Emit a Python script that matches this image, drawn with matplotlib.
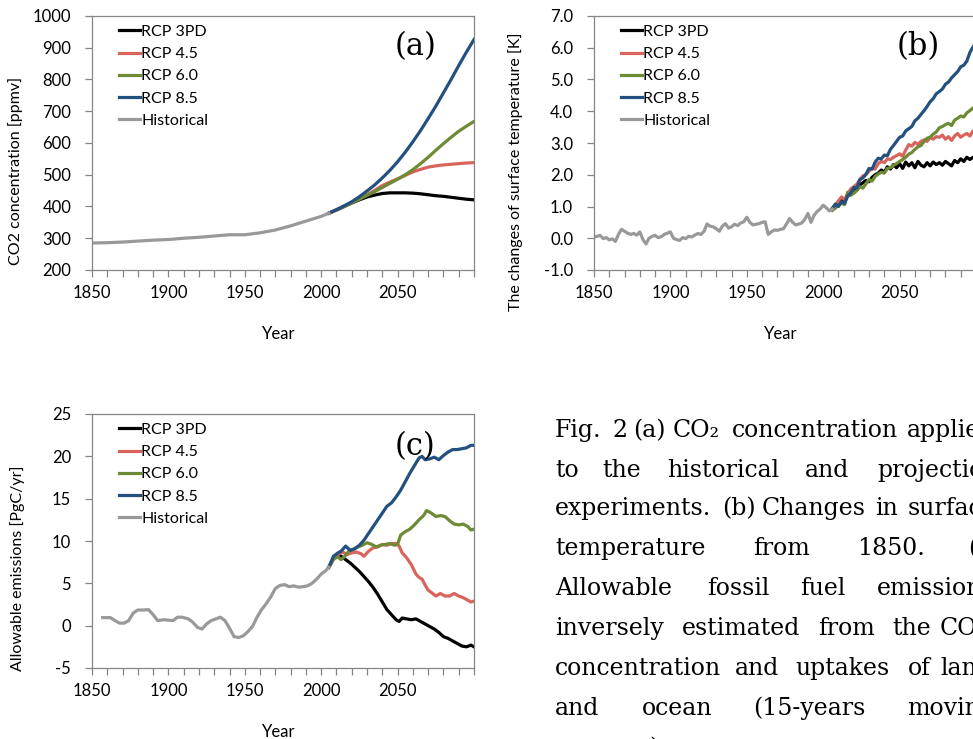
import numpy as np
import matplotlib.pyplot as plt

plt.rcParams['font.family'] = 'Lato'
plt.rcParams['axes.unicode_minus'] = False

# ---- (a) CO2 concentration [ppmv] ----
co2_hist_years = [1850, 1860, 1870, 1880, 1890, 1900, 1910, 1920, 1930, 1940,
                  1950, 1960, 1970, 1980, 1990, 2000, 2005]
co2_hist = [285, 286, 288, 291, 294, 296, 300, 303, 307, 311,
            311, 317, 326, 339, 354, 369, 379]
co2_rcp_years = [2005, 2010, 2015, 2020, 2025, 2030, 2035, 2040, 2045, 2050, 2055,
                 2060, 2065, 2070, 2075, 2080, 2085, 2090, 2095, 2100]
co2_rcp3pd = [379, 389, 400, 411, 421, 430, 436, 441, 443, 443, 443,
              442, 440, 437, 434, 432, 429, 426, 423, 421]
co2_rcp45 = [379, 389, 400, 412, 424, 437, 451, 466, 477, 487, 498,
             509, 517, 524, 528, 531, 533, 535, 537, 538]
co2_rcp60 = [379, 389, 400, 412, 423, 435, 447, 460, 473, 486, 500,
             516, 535, 555, 577, 598, 618, 637, 653, 668]
co2_rcp85 = [379, 390, 402, 415, 431, 449, 468, 490, 514, 541, 571,
             604, 639, 677, 716, 758, 800, 844, 886, 926]

# ---- (b) surface temperature change [K] ----
tmp_hist_years = list(range(1850, 2007, 2))
tmp_hist = [0.04, 0.06, 0.09, -0.01, 0.02, -0.05, -0.02, -0.10, 0.12, 0.28,
            0.22, 0.16, 0.12, 0.15, 0.10, 0.20, -0.04, -0.18, 0.00, 0.06,
            0.09, 0.02, 0.05, 0.12, 0.16, 0.20, 0.00, -0.04, -0.07, 0.02,
            -0.01, 0.06, 0.04, 0.10, 0.15, 0.12, 0.22, 0.45, 0.38, 0.36,
            0.30, 0.22, 0.38, 0.46, 0.32, 0.36, 0.44, 0.40, 0.48, 0.52,
            0.66, 0.50, 0.42, 0.44, 0.46, 0.50, 0.52, 0.12, 0.20, 0.26,
            0.25, 0.28, 0.30, 0.45, 0.62, 0.50, 0.42, 0.45, 0.48, 0.60,
            0.78, 0.50, 0.72, 0.84, 0.92, 1.04, 0.96, 0.86, 0.92]
tmp_rcp_years = list(range(2006, 2101, 2))
tmp_rcp3pd = [0.92, 1.05, 1.12, 1.20, 1.15, 1.35, 1.42, 1.50, 1.58, 1.68,
              1.75, 1.82, 1.78, 1.92, 2.00, 2.05, 2.15, 2.08, 2.25, 2.18,
              2.32, 2.22, 2.35, 2.20, 2.40, 2.28, 2.38, 2.22, 2.42, 2.30,
              2.25, 2.38, 2.28, 2.40, 2.32, 2.38, 2.30, 2.42, 2.35, 2.28,
              2.45, 2.38, 2.50, 2.42, 2.55, 2.48, 2.55, 2.52]
tmp_rcp45 = [0.90, 1.02, 1.18, 1.30, 1.22, 1.40, 1.55, 1.62, 1.70, 1.85,
             1.96, 2.00, 2.12, 2.20, 2.18, 2.35, 2.42, 2.38, 2.50, 2.48,
             2.55, 2.60, 2.66, 2.58, 2.78, 2.95, 2.90, 3.02, 2.96, 3.05,
             3.10, 3.05, 3.18, 3.12, 3.20, 3.18, 3.25, 3.12, 3.20, 3.08,
             3.22, 3.30, 3.18, 3.25, 3.30, 3.22, 3.38, 3.35]
tmp_rcp60 = [0.88, 0.95, 1.05, 1.10, 1.06, 1.45, 1.35, 1.42, 1.50, 1.62,
             1.58, 1.72, 1.85, 1.80, 1.95, 2.02, 2.08, 2.05, 2.20, 2.22,
             2.30, 2.35, 2.42, 2.48, 2.55, 2.65, 2.70, 2.80, 2.88, 2.92,
             3.05, 3.15, 3.18, 3.28, 3.35, 3.48, 3.52, 3.58, 3.62, 3.55,
             3.72, 3.78, 3.85, 3.82, 3.95, 4.02, 4.10, 4.15]
tmp_rcp85 = [0.95, 1.08, 1.00, 1.15, 1.10, 1.32, 1.42, 1.60, 1.58, 1.85,
             1.90, 2.02, 2.20, 2.18, 2.40, 2.52, 2.50, 2.62, 2.60, 2.80,
             2.92, 3.05, 3.18, 3.22, 3.38, 3.45, 3.52, 3.70, 3.78, 3.90,
             4.02, 4.15, 4.30, 4.40, 4.55, 4.62, 4.70, 4.85, 4.92, 5.05,
             5.15, 5.25, 5.40, 5.45, 5.58, 5.85, 6.02, 6.15]

# ---- (c) allowable emissions [PgC/yr] ----
emi_hist_years = [1857, 1862, 1865, 1868, 1871, 1874, 1877, 1880, 1884, 1887,
                  1890, 1893, 1897, 1900, 1903, 1906, 1909, 1913, 1916, 1919,
                  1922, 1925, 1928, 1931, 1934, 1937, 1940, 1943, 1946, 1949,
                  1952, 1955, 1958, 1961, 1964, 1967, 1970, 1973, 1976, 1979,
                  1982, 1985, 1988, 1991, 1994, 1997, 2000, 2003, 2005]
emi_hist = [0.95, 0.95, 0.6, 0.3, 0.3, 0.6, 1.5, 1.85, 1.85, 1.9,
            1.3, 0.6, 0.7, 0.65, 0.6, 1.0, 1.0, 0.8, 0.4, -0.2,
            -0.4, 0.2, 0.6, 0.8, 1.0, 0.6, -0.3, -1.3, -1.4, -1.2,
            -0.7, -0.1, 1.0, 1.9, 2.6, 3.4, 4.4, 4.75, 4.85, 4.6,
            4.7, 4.55, 4.6, 4.7, 5.0, 5.5, 6.1, 6.5, 6.9]
emi_3pd_years = [2005, 2008, 2011, 2013, 2016, 2019, 2022, 2025, 2028, 2031,
                 2034, 2037, 2040, 2043, 2046, 2049, 2051, 2053, 2056, 2059,
                 2062, 2065, 2068, 2071, 2074, 2077, 2080, 2083, 2086, 2089,
                 2092, 2095, 2098, 2100]
emi_rcp3pd = [6.9, 7.9, 8.4, 8.2, 7.8, 7.4, 6.9, 6.4, 5.8, 5.2,
              4.5, 3.7, 2.8, 1.9, 1.3, 0.7, 0.5, 0.9, 0.8, 0.7,
              0.8, 0.5, 0.2, -0.1, -0.4, -0.8, -1.3, -1.5, -1.8, -2.1,
              -2.4, -2.5, -2.3, -2.5]
emi_45_years = [2005, 2008, 2011, 2014, 2017, 2020, 2023, 2026, 2028, 2031,
                2034, 2037, 2040, 2043, 2046, 2049, 2051, 2053, 2056, 2059,
                2062, 2064, 2066, 2068, 2070, 2073, 2075, 2078, 2081, 2084,
                2087, 2090, 2093, 2096, 2098, 2100]
emi_rcp45 = [6.9, 7.8, 8.4, 8.7, 8.4, 8.6, 8.7, 8.5, 8.2, 8.8,
             9.2, 9.3, 9.6, 9.5, 9.7, 9.7, 9.4, 8.6, 8.0, 7.2,
             6.1, 5.7, 5.5, 4.8, 4.2, 3.8, 3.5, 3.8, 3.5, 3.5,
             3.8, 3.5, 3.3, 3.0, 2.8, 2.9]
emi_60_years = [2005, 2008, 2011, 2013, 2016, 2018, 2021, 2024, 2027, 2030,
                2033, 2036, 2039, 2042, 2045, 2048, 2050, 2052, 2055, 2058,
                2061, 2064, 2067, 2069, 2072, 2075, 2078, 2081, 2084, 2087,
                2090, 2093, 2096, 2098, 2100]
emi_rcp60 = [6.9, 7.9, 8.1, 7.8, 8.3, 8.8, 9.0, 9.3, 9.5, 9.8,
             9.6, 9.3, 9.5, 9.6, 9.7, 9.5, 9.6, 10.7, 11.1, 11.4,
             11.9, 12.5, 13.0, 13.6, 13.3, 12.9, 13.0, 12.9, 12.4, 12.0,
             11.9, 12.0, 11.7, 11.3, 11.4]
emi_85_years = [2005, 2008, 2011, 2013, 2016, 2019, 2022, 2025, 2028, 2031,
                2034, 2037, 2040, 2043, 2046, 2049, 2052, 2055, 2058, 2061,
                2064, 2066, 2068, 2071, 2074, 2077, 2080, 2083, 2086, 2089,
                2092, 2095, 2098, 2100]
emi_rcp85 = [6.9, 8.2, 8.6, 8.8, 9.4, 8.9, 9.1, 9.5, 10.1, 10.9,
             11.7, 12.5, 13.3, 14.1, 14.5, 15.2, 16.0, 17.0, 18.0, 18.9,
             19.8, 20.0, 19.6, 19.7, 19.9, 19.6, 20.1, 20.5, 20.8, 20.8,
             20.9, 21.0, 21.3, 21.3]

labels = ['RCP 3PD', 'RCP 4.5', 'RCP 6.0', 'RCP 8.5', 'Historical']
colors = ['#000000', '#d9645c', '#6e8a35', '#23507f', '#999999']

W, H = 973, 739
fig = plt.figure(figsize=(W / 100, H / 100), dpi=100)


def box(left, top, right, bottom):
    return [left / W, (H - bottom) / H, (right - left) / W, (bottom - top) / H]


def draw(ax, series, ylim, yticks, fmt, ylabel, lab_x, lab_y):
    for (x, y), lab, c in zip(series, labels, colors):
        ax.plot(x, y, color=c, lw=2.3, label=lab, solid_joinstyle='round')
    ax.set_xlim(1850, 2100)
    ax.set_ylim(*ylim)
    ax.set_xticks(np.arange(1850, 2051, 50))
    ax.set_xticks(np.arange(1850, 2101, 10), minor=True)
    ax.set_yticks(yticks)
    ax.set_yticklabels([fmt % v for v in yticks])
    for s in ax.spines.values():
        s.set_color('#868686')
        s.set_linewidth(0.9)
    ax.tick_params(which='both', direction='out', color='#868686', length=5, width=0.9)
    ax.tick_params(axis='y', pad=10, labelsize=12)
    ax.tick_params(axis='x', pad=6, labelsize=12)
    ax.set_xlabel('Year', fontsize=12)
    ax.xaxis.set_label_coords(0.49, -0.222)
    ax.set_ylabel(ylabel, fontsize=11.5)
    ax.yaxis.set_label_coords(lab_x, lab_y)
    ax.legend(loc='upper left', bbox_to_anchor=(0.07, 0.965), frameon=False,
              fontsize=11.5, handlelength=1.3, handletextpad=0.1,
              labelspacing=0.5, borderaxespad=0, borderpad=0)


ax_a = fig.add_axes(box(92, 16, 474, 270))
draw(ax_a, [(co2_rcp_years, co2_rcp3pd), (co2_rcp_years, co2_rcp45),
            (co2_rcp_years, co2_rcp60), (co2_rcp_years, co2_rcp85),
            (co2_hist_years, co2_hist)],
     (200, 1000), np.arange(200, 1001, 100), '%d',
     'CO2 concentration [ppmv]', -0.18, 0.39)

ax_b = fig.add_axes(box(594, 16, 976, 270))
draw(ax_b, [(tmp_rcp_years, tmp_rcp3pd), (tmp_rcp_years, tmp_rcp45),
            (tmp_rcp_years, tmp_rcp60), (tmp_rcp_years, tmp_rcp85),
            (tmp_hist_years, tmp_hist)],
     (-1, 7), np.arange(-1, 7.1, 1.0), '%.1f',
     'The changes of surface temperature [K]', -0.186, 0.386)

ax_c = fig.add_axes(box(92, 414, 474, 668))
draw(ax_c, [(emi_3pd_years, emi_rcp3pd), (emi_45_years, emi_rcp45),
            (emi_60_years, emi_rcp60), (emi_85_years, emi_rcp85),
            (emi_hist_years, emi_hist)],
     (-5, 25), np.arange(-5, 26, 5), '%d',
     'Allowable emissions [PgC/yr]', -0.176, 0.392)

# panel letters
for txt, px, py in [('(a)', 416, 47), ('(b)', 918, 47), ('(c)', 415, 447)]:
    fig.text(px / W, 1 - py / H, txt, family='DejaVu Serif', fontsize=22,
             ha='center', va='center')

# caption, word by word (justified, cut at the right edge)
caption = [
    (437, [('Fig.', 555), ('2', 612), ('(a)', 633), ('CO₂', 673),
           ('concentration', 732), ('applied', 907)]),
    (477, [('to', 555), ('the', 602), ('historical', 667), ('and', 805),
           ('projection', 877)]),
    (515, [('experiments.', 555), ('(b)', 722), ('Changes', 762), ('in', 875),
           ('surface', 908)]),
    (555, [('temperature', 555), ('from', 753), ('1850.', 857), ('(c)', 968)]),
    (595, [('Allowable', 555), ('fossil', 707), ('fuel', 800),
           ('emissions', 877)]),
    (635, [('inversely', 555), ('estimated', 682), ('from', 818), ('the', 892),
           ('CO₂', 940)]),
    (675, [('concentration', 555), ('and', 735), ('uptakes', 795), ('of', 908),
           ('land', 940)]),
    (715, [('and', 555), ('ocean', 642), ('(15-years', 753), ('moving', 907)]),
    (755, [('average).', 555)]),
]
for base, words in caption:
    for w, px in words:
        fig.text(px / W, 1 - base / H, w, family='DejaVu Serif', fontsize=17,
                 ha='left', va='baseline')

fig.savefig('out.png', dpi=100)
